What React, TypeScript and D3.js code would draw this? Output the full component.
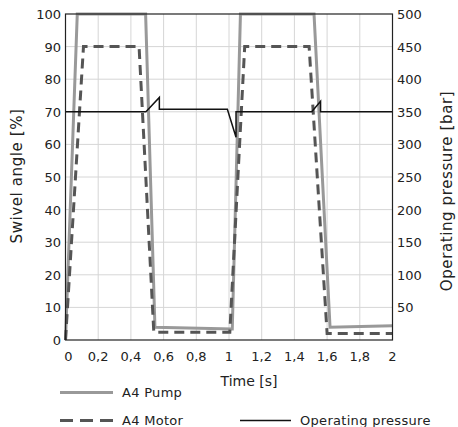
import React, { useEffect, useRef } from 'react';
import * as d3 from 'd3';

// time [s] / swivel angle [%]
const pumpTime = [0, 0.072, 0.49, 0.547, 1.02, 1.07, 1.52, 1.618, 2.0];
const pumpAngle = [0, 100, 100, 3.9, 3.4, 100, 100, 3.9, 4.4];

const motorTime = [0, 0.11, 0.45, 0.54, 1.005, 1.096, 1.49, 1.6, 2.0];
const motorAngle = [0, 90, 90, 2.4, 2.4, 90, 90, 2, 2];

// time [s] / pressure [bar]
const pressureTime = [0, 0.492, 0.574, 0.574, 0.99, 1.043, 1.043, 1.506, 1.56, 1.56, 2.0];
const pressureBar = [350, 350, 372, 354, 354, 311, 350, 350, 366, 350, 350];

const xTicks = [0, 0.2, 0.4, 0.6, 0.8, 1, 1.2, 1.4, 1.6, 1.8, 2];
const leftTicks = [0, 10, 20, 30, 40, 50, 60, 70, 80, 90, 100];
const rightTicks = [50, 100, 150, 200, 250, 300, 350, 400, 450, 500];

const App = () => {
  const svgRef = useRef<SVGSVGElement>(null);
  const width = 458;
  const height = 427;

  useEffect(() => {
    const svg = d3.select(svgRef.current);
    svg.selectAll('*').remove();

    const margin = { top: 14, left: 65.5, right: 392.5, bottom: 340 };
    const font = "'DejaVu Sans', sans-serif";

    const x = d3.scaleLinear().domain([0, 2]).range([margin.left, margin.right]);
    const yL = d3.scaleLinear().domain([0, 100]).range([margin.bottom, margin.top]);
    const yR = d3.scaleLinear().domain([0, 500]).range([margin.bottom, margin.top]);

    // grid
    const grid = svg.append('g').attr('stroke', '#d6d6d6').attr('stroke-width', 1);
    xTicks.slice(1, -1).forEach(t => {
      grid.append('line').attr('x1', x(t)).attr('x2', x(t)).attr('y1', margin.top).attr('y2', margin.bottom);
    });
    leftTicks.slice(1, -1).forEach(t => {
      grid.append('line').attr('x1', margin.left).attr('x2', margin.right).attr('y1', yL(t)).attr('y2', yL(t));
    });

    // series
    const pumpLine = d3.line<number>().x((_, i) => x(pumpTime[i])).y(d => yL(d));
    svg.append('path').attr('d', pumpLine(pumpAngle))
      .attr('fill', 'none').attr('stroke', '#999').attr('stroke-width', 3);

    const motorLine = d3.line<number>().x((_, i) => x(motorTime[i])).y(d => yL(d));
    svg.append('path').attr('d', motorLine(motorAngle))
      .attr('fill', 'none').attr('stroke', '#555').attr('stroke-width', 3)
      .attr('stroke-dasharray', '10 6');

    const pressLine = d3.line<number>().x((_, i) => x(pressureTime[i])).y(d => yR(d));
    svg.append('path').attr('d', pressLine(pressureBar))
      .attr('fill', 'none').attr('stroke', '#111').attr('stroke-width', 1.5);

    // frame
    svg.append('rect')
      .attr('x', margin.left).attr('y', margin.top)
      .attr('width', margin.right - margin.left).attr('height', margin.bottom - margin.top)
      .attr('fill', 'none').attr('stroke', '#222').attr('stroke-width', 1.2);

    const txt = svg.append('g').attr('font-family', font).attr('font-size', 13).attr('fill', '#222');

    xTicks.forEach(t => {
      txt.append('text').attr('x', x(t) + (t === 0 ? 3 : 0)).attr('y', 361)
        .attr('text-anchor', 'middle').text(String(t).replace('.', ','));
    });
    leftTicks.forEach(t => {
      txt.append('text').attr('x', 61).attr('y', yL(t) + 5)
        .attr('text-anchor', 'end').text(t);
    });
    rightTicks.forEach(t => {
      txt.append('text').attr('x', 397).attr('y', yR(t) + 5)
        .attr('text-anchor', 'start').text(t);
    });

    txt.append('text').attr('x', 249).attr('y', 386).attr('font-size', 14)
      .attr('text-anchor', 'middle').text('Time [s]');
    txt.append('text').attr('transform', 'translate(21.5,176) rotate(-90)')
      .attr('font-size', 15).attr('letter-spacing', 0.6)
      .attr('text-anchor', 'middle').text('Swivel angle [%]');
    txt.append('text').attr('transform', 'translate(452,191) rotate(-90)')
      .attr('font-size', 15).attr('letter-spacing', 0.6)
      .attr('text-anchor', 'middle').text('Operating pressure [bar]');

    // legend
    const legend = [
      { label: 'A4 Pump', x: 60, y: 392.5, color: '#999', w: 3, dash: null, len: 53 },
      { label: 'A4 Motor', x: 60, y: 420.5, color: '#555', w: 3, dash: '13 7', len: 53 },
      { label: 'Operating pressure', x: 240, y: 420.5, color: '#111', w: 1.5, dash: null, len: 51 },
    ];
    legend.forEach(l => {
      svg.append('line').attr('x1', l.x).attr('x2', l.x + l.len).attr('y1', l.y).attr('y2', l.y)
        .attr('stroke', l.color).attr('stroke-width', l.w)
        .attr('stroke-dasharray', l.dash);
      txt.append('text').attr('x', l.x + l.len + 9).attr('y', l.y + 4.5)
        .attr('letter-spacing', 0.3).text(l.label);
    });
  }, []);

  return (
    <svg ref={svgRef} width={width} height={height}
      style={{ position: 'absolute', left: 0, top: 0, display: 'block' }}></svg>
  );
};

export default App;
